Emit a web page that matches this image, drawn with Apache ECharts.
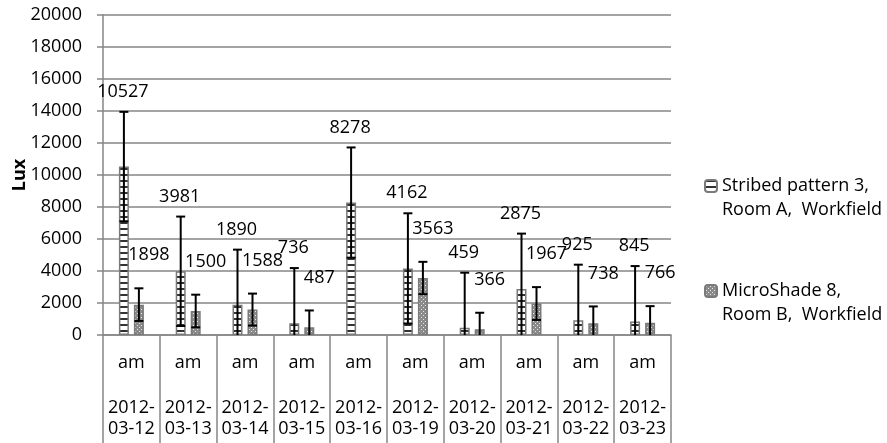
<!DOCTYPE html>
<html>
<head>
<meta charset="utf-8">
<script src="https://cdn.jsdelivr.net/npm/echarts@6/dist/echarts.min.js"></script>
<style>
html, body { margin: 0; padding: 0; background: #fff; }
#main { width: 887px; height: 443px; }
</style>
</head>
<body>
<div id="main"></div>
<script>
// chart data
const periods = ['am', 'am', 'am', 'am', 'am', 'am', 'am', 'am', 'am', 'am']
const dates = ['2012-\n03-12', '2012-\n03-13', '2012-\n03-14', '2012-\n03-15', '2012-\n03-16',
	'2012-\n03-19', '2012-\n03-20', '2012-\n03-21', '2012-\n03-22', '2012-\n03-23']
const seriesNames = ['Stribed pattern 3,\nRoom A,  Workfield', 'MicroShade 8,\nRoom B,  Workfield']
const stribedValues = [10527, 3981, 1890, 736, 8278, 4162, 459, 2875, 925, 845]
const microValues = [1898, 1500, 1588, 487, null, 3563, 366, 1967, 738, 766]
// error bar half-length (+/-)
const stribedErr = [3420, 3420, 3445, 3447, 3444, 3445, 3435, 3462, 3470, 3463]
const microErr = [1020, 1020, 1000, 1047, null, 1010, 1024, 1026, 1047, 1037]
const yMin = 0
const yMax = 20000
const yStep = 2000

const FONT = '"Open Sans", "Noto Sans", sans-serif'
const GRAY = '#868686'

// hatch fills like the excel patterns
function makePattern(kind) {
	const c = document.createElement('canvas')
	const ctx = c.getContext('2d')
	if(kind == 'lines') {
		c.width = 8; c.height = 6
		ctx.fillStyle = '#fff'
		ctx.fillRect(0, 0, 8, 6)
		ctx.fillStyle = '#333'
		ctx.fillRect(0, 0, 8, 2)
	} else {
		c.width = 4; c.height = 4
		ctx.fillStyle = '#8a8a8a'
		ctx.fillRect(0, 0, 4, 4)
		ctx.fillStyle = '#e8e8e8'
		ctx.fillRect(1, 1, 1, 1)
		ctx.fillRect(3, 3, 1, 1)
	}
	return { image: c, repeat: 'repeat' }
}

const toErrData = (vals, errs) => {
	const out = []
	vals.forEach(function(v, i) {
		if(v != null) out.push([i, v, errs[i]])
	})
	return out
}

const errorBar = (shift, labelDx, labelDy) => (params, api) => {
	const idx = api.value(0), v = api.value(1), e = api.value(2)
	const x = api.coord([idx, v])[0] + shift
	const top = api.coord([idx, v + e])[1]
	const bot = api.coord([idx, Math.max(yMin, v - e)])[1]
	const st = { stroke: '#000', lineWidth: 2 }
	const kids = [
		{ type: 'line', shape: { x1: x, y1: top, x2: x, y2: bot }, style: st },
		{ type: 'line', shape: { x1: x - 4.5, y1: top, x2: x + 4.5, y2: top }, style: st },
		{ type: 'text', style: { text: String(v), x: x + labelDx, y: top + labelDy,
			align: 'center', verticalAlign: 'middle', font: '18px ' + FONT, fill: '#000' } }
	]
	if(v - e > yMin) {
		kids.push({ type: 'line', shape: { x1: x - 4.5, y1: bot, x2: x + 4.5, y2: bot }, style: st })
	}
	return { type: 'group', children: kids }
}

var myChart = echarts.init(document.getElementById('main'))
var option = {
	backgroundColor: '#fff',
	animation: false,
	grid: { left: 103, right: 216, top: 15, bottom: 108, outerBoundsMode: 'none' },
	legend: {
		orient: 'vertical',
		left: 699,
		top: 145,
		itemWidth: 12,
		itemHeight: 12,
		itemGap: 33,
		data: seriesNames,
		// blank first line keeps the icon level with the first text line
		formatter: (name) => '\n' + name,
		textStyle: { fontSize: 18, fontFamily: FONT, color: '#000', lineHeight: 24 }
	},
	xAxis: [{
		type: 'category',
		data: periods,
		position: 'bottom',
		axisLine: { lineStyle: { color: GRAY, width: 1.5 } },
		axisTick: { show: true, length: 108, interval: 0, lineStyle: { color: GRAY, width: 1.5 } },
		axisLabel: { interval: 0, margin: 19, fontSize: 18, fontFamily: FONT, color: '#000' }
	}, {
		type: 'category',
		data: dates,
		position: 'bottom',
		axisLine: { show: false },
		axisTick: { show: false },
		axisLabel: { interval: 0, margin: 62, fontSize: 18, lineHeight: 21.5, fontFamily: FONT, color: '#000' }
	}],
	yAxis: {
		type: 'value',
		min: yMin,
		max: yMax,
		interval: yStep,
		name: 'Lux',
		nameLocation: 'middle',
		nameGap: 74,
		nameMoveOverlap: false,
		nameTextStyle: { fontSize: 18, fontWeight: 'bold', fontFamily: FONT, color: '#000' },
		axisLine: { show: true, lineStyle: { color: GRAY, width: 1.5 } },
		axisTick: { show: true, length: 6, lineStyle: { color: GRAY, width: 1.5 } },
		axisLabel: { margin: 21, fontSize: 18, fontFamily: FONT, color: '#000', formatter: (v) => String(v) },
		splitLine: { lineStyle: { color: GRAY, width: 1.5 } }
	},
	series: [{
		name: seriesNames[0],
		type: 'bar',
		barWidth: 10,
		barGap: '50%',
		data: stribedValues,
		itemStyle: { color: makePattern('lines'), borderColor: '#7a7a7a', borderWidth: 1.5 }
	}, {
		name: seriesNames[1],
		type: 'bar',
		barWidth: 10,
		barGap: '50%',
		data: microValues,
		itemStyle: { color: makePattern('dots'), borderColor: '#7a7a7a', borderWidth: 1.5 }
	}, {
		type: 'custom',
		renderItem: errorBar(-7.5, -1, -20),
		data: toErrData(stribedValues, stribedErr),
		z: 5
	}, {
		type: 'custom',
		renderItem: errorBar(7.5, 10, -33),
		data: toErrData(microValues, microErr),
		z: 5
	}]
}
myChart.setOption(option)
</script>
</body>
</html>
